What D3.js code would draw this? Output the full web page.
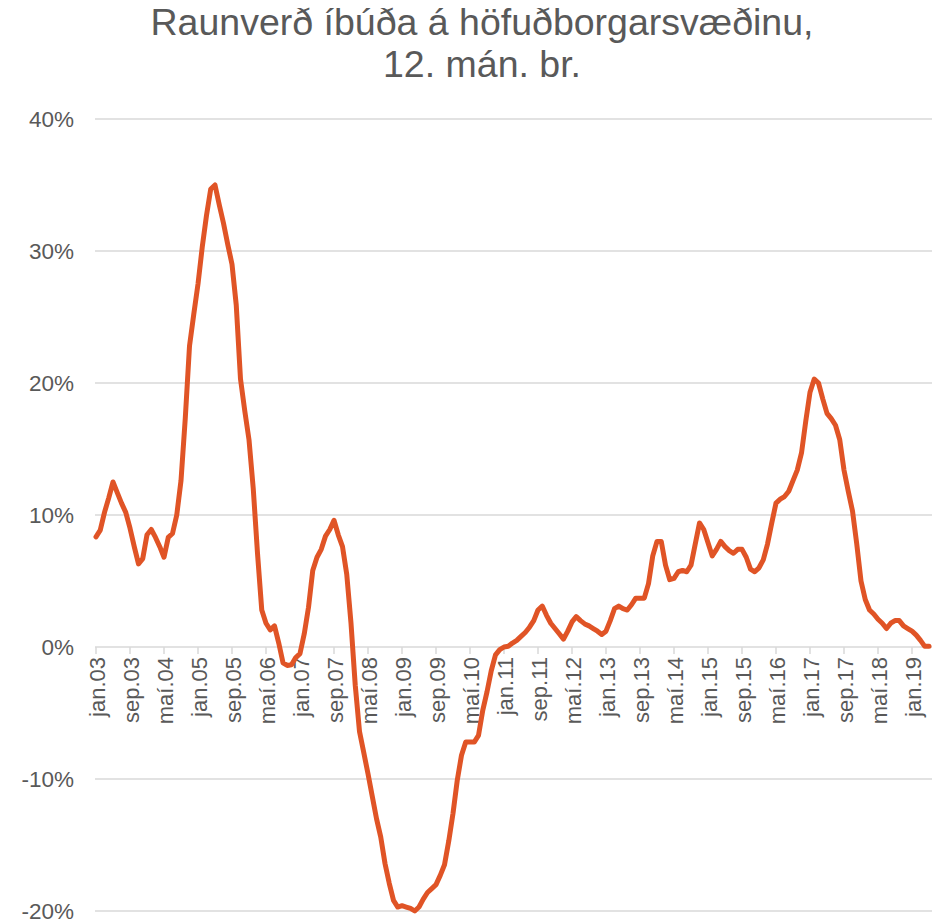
<!DOCTYPE html>
<html>
<head>
<meta charset="utf-8">
<script src="https://cdn.jsdelivr.net/npm/d3@7"></script>
<style>
  html, body { margin: 0; padding: 0; background: #fff; }
  svg { display: block; font-family: "Liberation Sans", Arial, sans-serif; }
</style>
</head>
<body>
<svg id="chart" width="932" height="920"></svg>
<script>
// ---- Data ----
const titleLines = ["Raunverð íbúða á höfuðborgarsvæðinu,", "12. mán. br."];

const monthNames = ["jan","feb","mar","apr","maí","jún","júl","ágú","sep","okt","nóv","des"];
const startYear = 2003;

// 12-month change in real house prices, % (jan.03 – maí.19)
const values = [
  8.35, 8.85, 10.2, 11.3, 12.5, 11.7, 10.9, 10.2, 9.0, 7.6, 6.3, 6.7,
  8.5, 8.9, 8.3, 7.6, 6.8, 8.3, 8.6, 10.0, 12.6, 17.3, 22.8, 25.2,
  27.5, 30.3, 32.7, 34.7, 35.0, 33.5, 32.1, 30.5, 29.0, 25.9, 20.3, 17.9,
  15.7, 12.0, 7.1, 2.8, 1.8, 1.3, 1.6, 0.3, -1.2, -1.4, -1.35, -0.8,
  -0.5, 1.0, 3.0, 5.8, 6.8, 7.4, 8.4, 8.9, 9.6, 8.5, 7.6, 5.5,
  1.8, -2.9, -6.4, -8.0, -9.6, -11.3, -13.0, -14.4, -16.4, -17.9, -19.2, -19.7,
  -19.6, -19.7, -19.8, -20.0, -19.7, -19.1, -18.6, -18.3, -18.0, -17.3, -16.5, -14.7,
  -12.6, -10.1, -8.2, -7.2, -7.2, -7.2, -6.7, -4.8, -3.4, -1.8, -0.6, -0.2,
  0.0, 0.05, 0.3, 0.5, 0.8, 1.1, 1.5, 2.0, 2.8, 3.1, 2.4, 1.8,
  1.4, 1.0, 0.6, 1.2, 1.9, 2.3, 2.0, 1.75, 1.6, 1.4, 1.2, 0.95,
  1.2, 2.0, 2.9, 3.1, 2.9, 2.8, 3.2, 3.7, 3.7, 3.7, 4.8, 6.9,
  8.0, 8.0, 6.2, 5.1, 5.2, 5.7, 5.8, 5.7, 6.2, 7.8, 9.4, 8.9,
  7.9, 6.9, 7.4, 8.0, 7.6, 7.3, 7.1, 7.4, 7.4, 6.8, 5.9, 5.7,
  6.0, 6.6, 7.8, 9.4, 10.9, 11.2, 11.4, 11.8, 12.6, 13.4, 14.7, 17.1,
  19.3, 20.3, 20.0, 18.8, 17.7, 17.3, 16.8, 15.7, 13.4, 11.8, 10.3, 7.8,
  5.0, 3.6, 2.8, 2.5, 2.1, 1.8, 1.4, 1.8, 2.0, 2.0, 1.6, 1.4,
  1.2, 0.9, 0.5, 0.05, 0.05
];

const categories = values.map((v, i) => {
  const m = i % 12, y = startYear + Math.floor(i / 12);
  return monthNames[m] + "." + String(y % 100).padStart(2, "0");
});

const yTicks = [-20, -10, 0, 10, 20, 30, 40];
const labelEvery = 8;

// ---- Chart ----
const svg = d3.select("#chart");
const textColor = "#595959";
const gridColor = "#d9d9d9";
const lineColor = "#e05426";

const x = d3.scaleLinear().domain([0, values.length - 1]).range([96, 929]);
const y = d3.scaleLinear().domain([-20, 40]).range([911, 119]);

// Title
svg.append("g").selectAll("text")
  .data(titleLines)
  .join("text")
  .attr("x", 482)
  .attr("y", (d, i) => 35 + i * 42)
  .attr("text-anchor", "middle")
  .attr("font-size", 37.5)
  .attr("fill", textColor)
  .text(d => d);

// Gridlines
svg.append("g").selectAll("line")
  .data(yTicks)
  .join("line")
  .attr("x1", 95).attr("x2", 932)
  .attr("y1", d => y(d)).attr("y2", d => y(d))
  .attr("stroke", gridColor)
  .attr("stroke-width", 1.5);

// Y labels
svg.append("g").selectAll("text")
  .data(yTicks)
  .join("text")
  .attr("x", 74)
  .attr("y", d => y(d))
  .attr("dy", "0.35em")
  .attr("text-anchor", "end")
  .attr("font-size", 22.5)
  .attr("fill", textColor)
  .text(d => d + "%");

// X axis ticks & labels
const tickIdx = d3.range(0, values.length, labelEvery);
svg.append("g").selectAll("line")
  .data(tickIdx)
  .join("line")
  .attr("x1", d => x(d)).attr("x2", d => x(d))
  .attr("y1", y(0)).attr("y2", y(0) + 7)
  .attr("stroke", gridColor)
  .attr("stroke-width", 1.5);

svg.append("g").selectAll("text")
  .data(tickIdx)
  .join("text")
  .attr("transform", d => `translate(${x(d) + 1},${y(0) + 10}) rotate(-90)`)
  .attr("dy", "0.35em")
  .attr("text-anchor", "end")
  .attr("font-size", 22)
  .attr("fill", textColor)
  .text(d => categories[d]);

// Line
const line = d3.line()
  .x((d, i) => x(i))
  .y(d => y(d));

svg.append("path")
  .datum(values)
  .attr("d", line)
  .attr("fill", "none")
  .attr("stroke", lineColor)
  .attr("stroke-width", 5)
  .attr("stroke-linejoin", "round")
  .attr("stroke-linecap", "round");
</script>
</body>
</html>
